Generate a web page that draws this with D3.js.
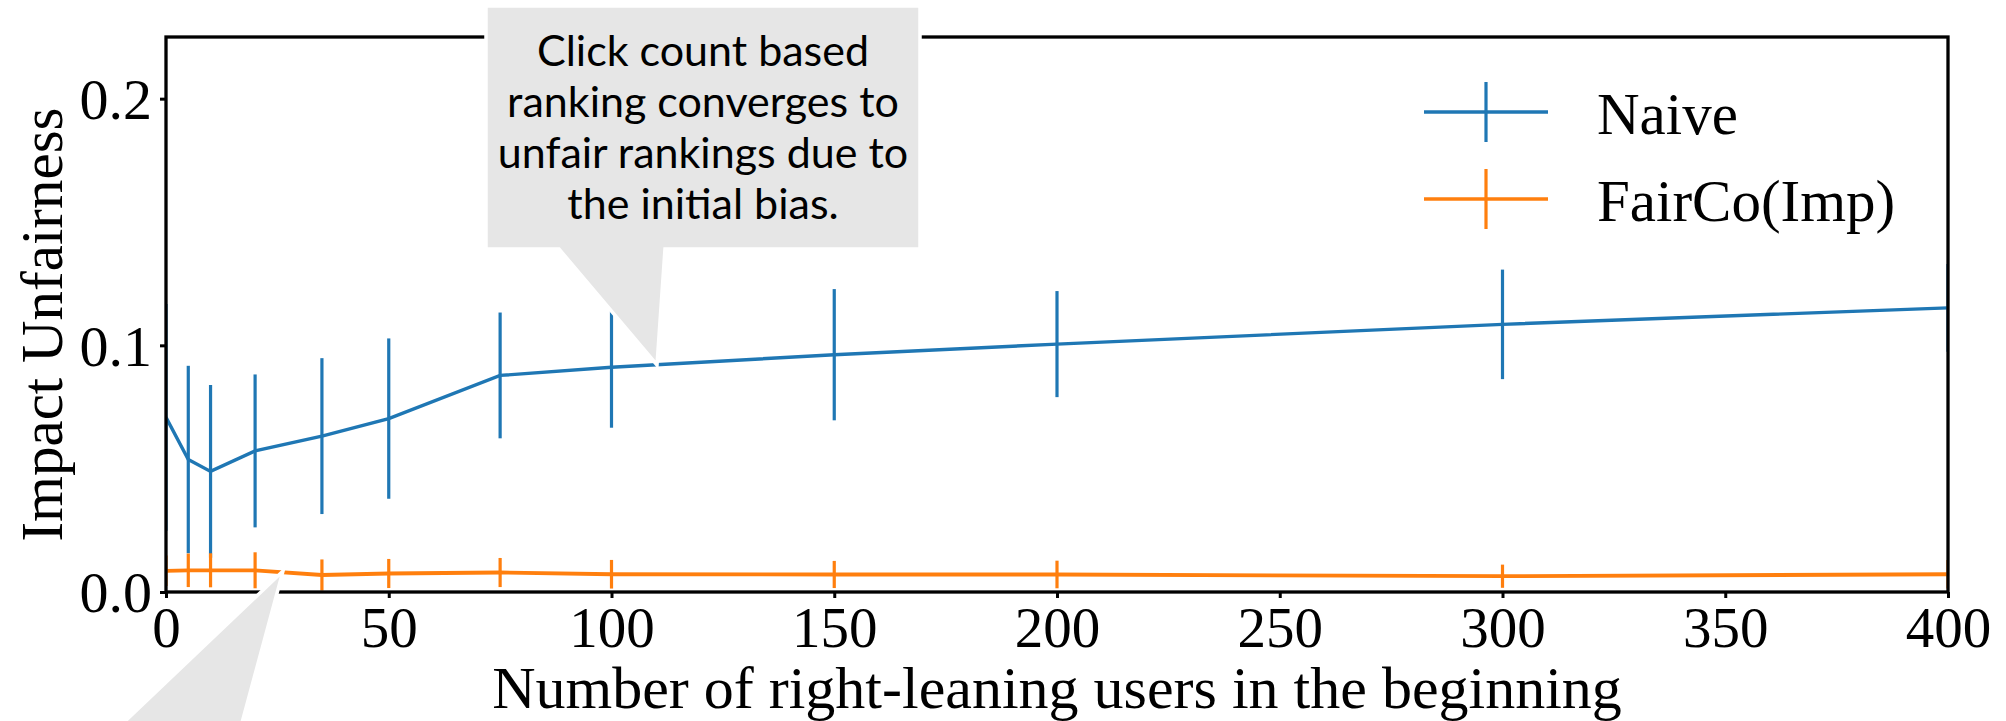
<!DOCTYPE html>
<html>
<head>
<meta charset="utf-8">
<script src="https://cdn.jsdelivr.net/npm/d3@7"></script>
<style>
  body { margin: 0; background: #fff; }
  svg { display: block; }
</style>
</head>
<body>
<svg id="chart"></svg>
<script>
// values
var users = [0, 5, 10, 20, 35, 50, 75, 100, 150, 200, 300, 400];
var naiveMean = [0.0708, 0.0537, 0.0489, 0.0572, 0.0632, 0.0703, 0.0878, 0.0911, 0.0962, 0.1005, 0.1085, 0.1152];
var naiveErr  = [0.046, 0.038, 0.035, 0.031, 0.0316, 0.0325, 0.0255, 0.0245, 0.0266, 0.0215, 0.0222, 0.0178];
var faircoMean = [0.0086, 0.0088, 0.0088, 0.0088, 0.0069, 0.0075, 0.0079, 0.0072, 0.0071, 0.0071, 0.0064, 0.0072];
var faircoErr  = [0.0062, 0.0068, 0.0069, 0.0073, 0.0063, 0.0059, 0.0059, 0.0058, 0.0055, 0.0056, 0.0047, 0.0058];
var xTicks = [0, 50, 100, 150, 200, 250, 300, 350, 400];
var yTicks = [0.0, 0.1, 0.2];
var seriesNames = ["Naive", "FairCo(Imp)"];
var seriesColors = ["#1f77b4", "#ff7f0e"];
var noteLines = ["Click count based", "ranking converges to", "unfair rankings due to", "the initial bias."];

var W = 2006, H = 721;
var margin = {top: 37, right: 58, bottom: 129, left: 166};

var svg = d3.select("#chart").attr("width", W).attr("height", H);
svg.append("rect").attr("width", W).attr("height", H).attr("fill", "#fff");

var x = d3.scaleLinear().domain([0, 400]).range([margin.left, W - margin.right]);
var y = d3.scaleLinear().domain([0, 0.225]).range([H - margin.bottom, margin.top]);

var serif = "'Liberation Serif', 'Times New Roman', serif";

svg.append("clipPath").attr("id", "plotclip")
	.append("rect")
	.attr("x", x(0)).attr("y", y(0.225))
	.attr("width", x(400) - x(0)).attr("height", y(0) - y(0.225));

var plot = svg.append("g").attr("clip-path", "url(#plotclip)");

function drawSeries(means, errs, color, lw) {
	var g = plot.append("g");
	g.selectAll("line.err")
		.data(users)
		.enter().append("line")
		.attr("class", "err")
		.attr("x1", function (d) { return x(d); })
		.attr("x2", function (d) { return x(d); })
		.attr("y1", function (d, i) { return y(means[i] - errs[i]); })
		.attr("y2", function (d, i) { return y(means[i] + errs[i]); })
		.attr("stroke", color)
		.attr("stroke-width", 3.2);
	var line = d3.line()
		.x(function (d) { return x(d); })
		.y(function (d, i) { return y(means[i]); });
	g.append("path")
		.datum(users)
		.attr("d", line)
		.attr("fill", "none")
		.attr("stroke", color)
		.attr("stroke-width", lw);
}

drawSeries(naiveMean, naiveErr, seriesColors[0], 3.4);
drawSeries(faircoMean, faircoErr, seriesColors[1], 3.8);

// axes
var xAxis = d3.axisBottom(x).tickValues(xTicks).tickSize(6).tickPadding(8)
	.tickFormat(d3.format("d"));
var gx = svg.append("g").attr("transform", "translate(0," + y(0) + ")").call(xAxis);
gx.select(".domain").remove();
gx.selectAll(".tick line").attr("stroke", "#000").attr("stroke-width", 3);
gx.selectAll(".tick text")
	.attr("font-family", serif).attr("font-size", 57).attr("fill", "#000")
	.attr("dy", null).attr("y", 55);

var yAxis = d3.axisLeft(y).tickValues(yTicks).tickSize(6).tickPadding(8)
	.tickFormat(d3.format(".1f"));
var gy = svg.append("g").attr("transform", "translate(" + x(0) + ",0)").call(yAxis);
gy.select(".domain").remove();
gy.selectAll(".tick line").attr("stroke", "#000").attr("stroke-width", 3);
gy.selectAll(".tick text")
	.attr("font-family", serif).attr("font-size", 58).attr("fill", "#000")
	.attr("dy", "0.34em");

// frame
svg.append("rect")
	.attr("x", x(0)).attr("y", y(0.225))
	.attr("width", x(400) - x(0)).attr("height", y(0) - y(0.225))
	.attr("fill", "none").attr("stroke", "#000").attr("stroke-width", 3.3);

// axis labels
svg.append("text")
	.attr("x", (x(0) + x(400)) / 2).attr("y", 708)
	.attr("text-anchor", "middle")
	.attr("font-family", serif).attr("font-size", 60)
	.text("Number of right-leaning users in the beginning");

svg.append("text")
	.attr("transform", "translate(62," + ((y(0) + y(0.225)) / 2 + 10) + ") rotate(-90)")
	.attr("text-anchor", "middle")
	.attr("font-family", serif).attr("font-size", 59)
	.text("Impact Unfairness");

// legend
var legend = svg.append("g").attr("transform", "translate(1424,112)");
var items = legend.selectAll("g")
	.data(seriesNames)
	.enter().append("g")
	.attr("transform", function (d, i) { return "translate(0," + (i * 87) + ")"; });
items.append("line")
	.attr("x1", 0).attr("x2", 124).attr("y1", 0).attr("y2", 0)
	.attr("stroke", function (d, i) { return seriesColors[i]; })
	.attr("stroke-width", 3.6);
items.append("line")
	.attr("x1", 62).attr("x2", 62).attr("y1", -30).attr("y2", 30)
	.attr("stroke", function (d, i) { return seriesColors[i]; })
	.attr("stroke-width", 3.2);
items.append("text")
	.attr("x", 173).attr("y", 22)
	.attr("font-family", serif).attr("font-size", 59)
	.text(function (d) { return d; });

// callouts
var grey = "#e6e6e6";
svg.append("path")
	.attr("d", "M486,6 H920 V249 H665 L657,365 L559,249 H486 Z")
	.attr("fill", grey).attr("stroke", "#fff").attr("stroke-width", 3.5)
	.attr("stroke-linejoin", "miter");

svg.append("g").selectAll("text")
	.data(noteLines)
	.enter().append("text")
	.attr("x", 703)
	.attr("y", function (d, i) { return 66 + i * 51; })
	.attr("text-anchor", "middle")
	.attr("font-family", "Lato, 'Open Sans', sans-serif")
	.attr("font-size", 43)
	.attr("fill", "#000")
	.text(function (d) { return d; });

svg.append("path")
	.attr("d", "M283,571 L236,745 L100,745 Z")
	.attr("fill", grey).attr("stroke", "#fff").attr("stroke-width", 3.5);
</script>
</body>
</html>
